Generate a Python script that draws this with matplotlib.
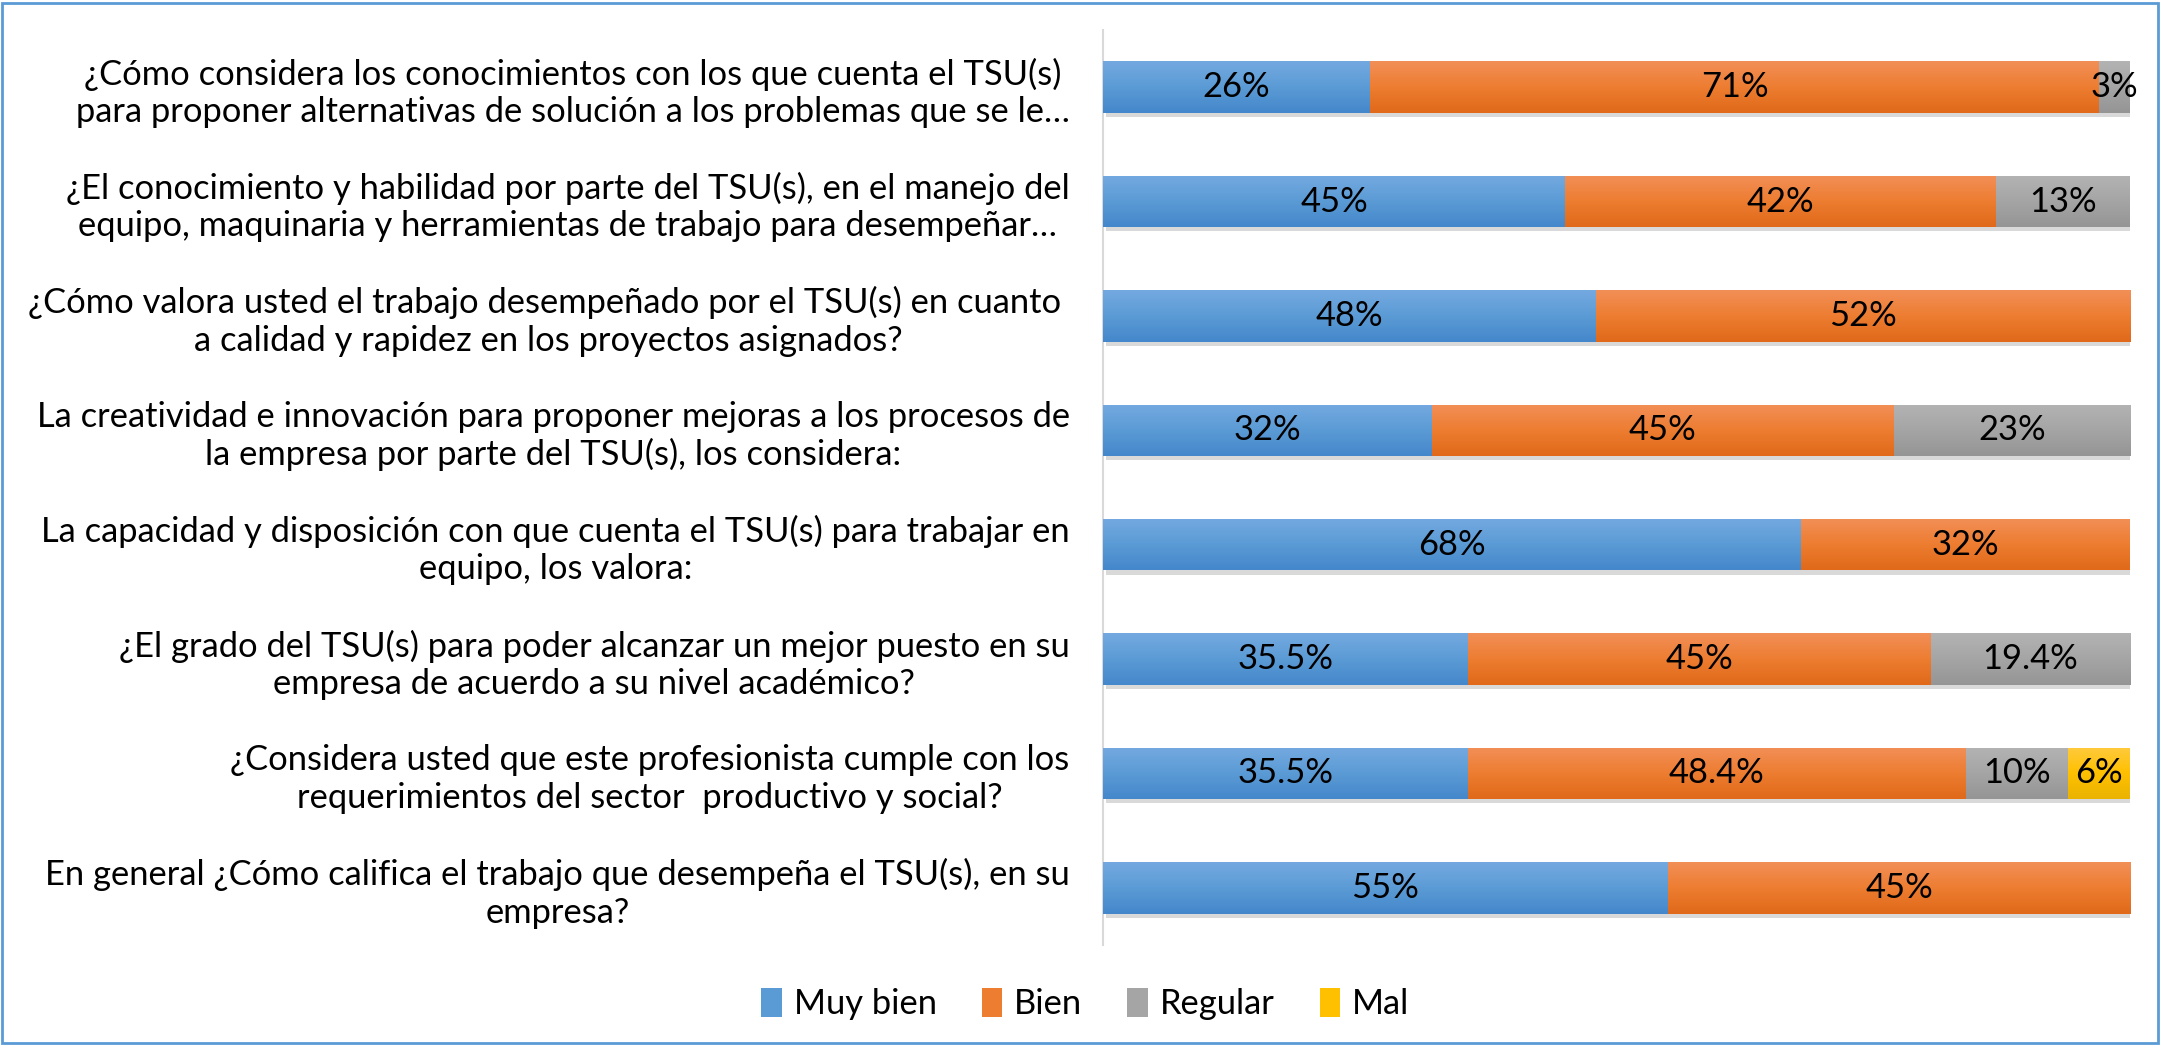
import numpy as np
import matplotlib.pyplot as plt
import matplotlib.patheffects as pe
from matplotlib.colors import LinearSegmentedColormap
from matplotlib.patches import Patch, Rectangle

plt.rcParams['font.family'] = ['Lato', 'DejaVu Sans']

preguntas = [
    "¿Cómo considera los conocimientos con los que cuenta el TSU(s)\npara proponer alternativas de solución a los problemas que se le…",
    "¿El conocimiento y habilidad por parte del TSU(s), en el manejo del\nequipo, maquinaria y herramientas de trabajo para desempeñar…",
    "¿Cómo valora usted el trabajo desempeñado por el TSU(s) en cuanto \na calidad y rapidez en los proyectos asignados?",
    "La creatividad e innovación para proponer mejoras a los procesos de\nla empresa por parte del TSU(s), los considera:",
    "La capacidad y disposición con que cuenta el TSU(s) para trabajar en\nequipo, los valora:",
    "¿El grado del TSU(s) para poder alcanzar un mejor puesto en su\nempresa de acuerdo a su nivel académico?",
    "¿Considera usted que este profesionista cumple con los\nrequerimientos del sector  productivo y social?",
    "En general ¿Cómo califica el trabajo que desempeña el TSU(s), en su\nempresa?",
]
muy_bien = [26, 45, 48, 32, 68, 35.5, 35.5, 55]
bien = [71, 42, 52, 45, 32, 45, 48.4, 45]
regular = [3, 13, 0, 23, 0, 19.4, 10, 0]
mal = [0, 0, 0, 0, 0, 0, 6, 0]
series = ["Muy bien", "Bien", "Regular", "Mal"]

# (arriba, medio, abajo) para imitar el degradado de Excel
colores = [
    ("#74a9e0", "#5b9bd5", "#4487cb"),
    ("#f28f57", "#ed7d31", "#e0691a"),
    ("#b3b3b3", "#a5a5a5", "#959595"),
    ("#ffca3d", "#ffc000", "#eab300"),
]

fs = 24.8
fig = plt.figure(figsize=(21.62, 10.45), dpi=100)
ax = fig.add_axes([0.5102, 0.0957, 0.4750, 0.8756])

y = np.arange(len(preguntas))
valores = np.array([muy_bien, bien, regular, mal])
pct = valores / valores.sum(axis=0) * 100
left = np.zeros(len(preguntas))
sombra = [pe.SimplePatchShadow(offset=(2, -3), shadow_rgbFace='k', alpha=0.15), pe.Normal()]

for i, nombre in enumerate(series):
    bars = ax.barh(y, pct[i], left=left, height=0.45, color=colores[i][1],
                   path_effects=sombra, zorder=2)
    cmap = LinearSegmentedColormap.from_list(nombre, colores[i])
    for b, v, p, l in zip(bars, valores[i], pct[i], left):
        if v == 0:
            continue
        x0, y0 = b.get_x(), b.get_y()
        im = ax.imshow(np.linspace(0, 1, 64).reshape(-1, 1), cmap=cmap, aspect='auto',
                       extent=(x0, x0 + b.get_width(), y0 + b.get_height(), y0),
                       origin='upper', zorder=3, interpolation='bilinear')
        im.set_clip_path(b)
        ax.text(l + p / 2, b.get_y() + b.get_height() / 2, f"{v:g}%",
                ha='center', va='center', fontsize=fs, color='black', zorder=4)
    left += pct[i]

ax.set_xlim(0, 100)
ax.set_ylim(len(preguntas) - 0.5, -0.5)
ax.set_yticks(y, preguntas, fontsize=fs, multialignment='center')
ax.tick_params(axis='y', length=0, pad=24)
ax.set_xticks([])
for s in ['top', 'right', 'bottom']:
    ax.spines[s].set_visible(False)
ax.spines['left'].set_color('#d9d9d9')
ax.spines['left'].set_linewidth(1.5)

handles = [Patch(facecolor=c[1], edgecolor='none') for c in colores]
fig.legend(handles, series, loc='center', bbox_to_anchor=(0.502, 0.039), ncol=4,
           frameon=False, fontsize=fs, handlelength=0.6, handleheight=0.9,
           handletextpad=0.35, columnspacing=1.3)

fig.patches.append(Rectangle((0.001, 0.0015), 0.997, 0.996, transform=fig.transFigure,
                             fill=False, edgecolor='#5b9bd5', linewidth=2))

fig.savefig('out.png', dpi=100)
